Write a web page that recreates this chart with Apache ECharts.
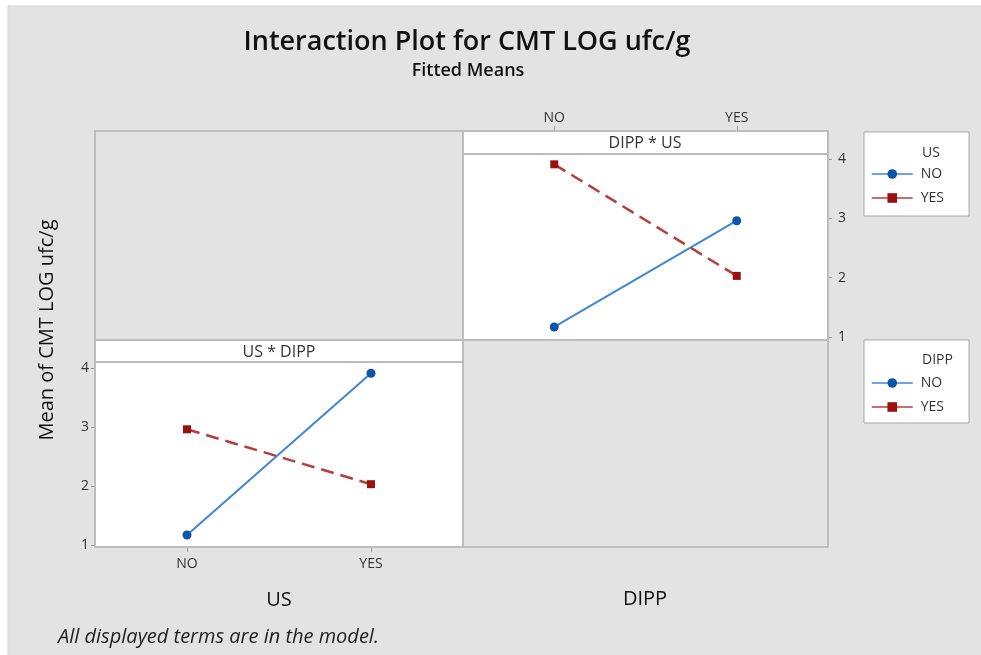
<!DOCTYPE html>
<html>
<head>
<meta charset="utf-8">
<script src="https://cdn.jsdelivr.net/npm/echarts@6/dist/echarts.min.js"></script>
<style>
  html, body { margin: 0; padding: 0; background: #ffffff; }
  #chart { width: 981px; height: 655px; }
</style>
</head>
<body>
<div id="chart"></div>
<script>
// Fitted means of CMT LOG ufc/g for each US x DIPP combination
const levels = ['NO', 'YES'];
// rows: US level; columns: DIPP level (NO, YES)
const meanUsNo = [1.17, 2.96];
const meanUsYes = [3.91, 2.03];
const yTicks = [1, 2, 3, 4];

const FONT = '"Open Sans", "Noto Sans", sans-serif';
const BLUE_LINE = '#3f86d6';
const BLUE_MARK = '#0a56a8';
const RED_LINE = '#b53d3d';
const RED_MARK = '#9c0f0f';
const FRAME = '#bdbdbd';
const BG = '#e3e3e3';

// Bottom-left panel: x = US, one line per DIPP level
const dippNo = [meanUsNo[0], meanUsYes[0]];
const dippYes = [meanUsNo[1], meanUsYes[1]];

const chart = echarts.init(document.getElementById('chart'), null, { renderer: 'canvas' });

function lineSeries(name, data, gridIdx, solid) {
  return {
    type: 'line',
    name: name,
    data: data,
    xAxisIndex: gridIdx,
    yAxisIndex: gridIdx,
    symbol: solid ? 'circle' : 'rect',
    symbolSize: solid ? 9 : 8,
    lineStyle: {
      color: solid ? BLUE_LINE : RED_LINE,
      width: solid ? 2 : 2.5,
      type: solid ? 'solid' : [13, 7]
    },
    itemStyle: { color: solid ? BLUE_MARK : RED_MARK },
    emphasis: { disabled: true },
    z: 5,
    animation: false
  };
}

const axisText = { color: '#333333', fontFamily: FONT, fontSize: 14 };

function legendAt(top) {
  return {
    orient: 'vertical', left: 871, top: top, padding: 0, itemGap: 8,
    itemWidth: 41, itemHeight: 12, data: levels,
    lineStyle: { type: 'solid', width: 1.5 },
    textStyle: { color: '#333333', fontFamily: FONT, fontSize: 14, lineHeight: 16, padding: [0, 0, 0, 3] },
    selectedMode: false
  };
}

const option = {
  backgroundColor: '#ffffff',
  animation: false,
  textStyle: { fontFamily: FONT },
  grid: [
    { left: 95, top: 362, width: 368, height: 185, show: true,
      backgroundColor: '#ffffff', borderColor: FRAME, borderWidth: 2 },
    { left: 463, top: 154, width: 365, height: 186, show: true,
      backgroundColor: '#ffffff', borderColor: FRAME, borderWidth: 2 }
  ],
  xAxis: [
    { type: 'category', gridIndex: 0, data: levels, position: 'bottom',
      boundaryGap: true,
      axisLine: { show: false },
      axisTick: { show: true, alignWithLabel: true, length: 5, lineStyle: { color: '#9a9a9a' } },
      axisLabel: Object.assign({ margin: 10 }, axisText),
      name: 'US', nameLocation: 'middle', nameGap: 43,
      nameTextStyle: { color: '#111111', fontFamily: FONT, fontSize: 20 } },
    { type: 'category', gridIndex: 1, data: levels, position: 'top', offset: 23,
      boundaryGap: true,
      axisLine: { show: false },
      axisTick: { show: true, alignWithLabel: true, length: 5, lineStyle: { color: '#9a9a9a' } },
      axisLabel: Object.assign({ margin: 6 }, axisText) }
  ],
  yAxis: [
    { type: 'value', gridIndex: 0, position: 'left', min: 0.966, max: 4.1,
      splitLine: { show: false },
      axisLine: { show: false },
      axisTick: { show: true, length: 4, customValues: yTicks, lineStyle: { color: '#9a9a9a' } },
      axisLabel: Object.assign({ margin: 6, customValues: yTicks }, axisText) },
    { type: 'value', gridIndex: 1, position: 'right', min: 0.95, max: 4.084,
      splitLine: { show: false },
      axisLine: { show: false },
      axisTick: { show: true, length: 4, customValues: yTicks, lineStyle: { color: '#9a9a9a' } },
      axisLabel: Object.assign({ margin: 10, customValues: yTicks }, axisText) }
  ],
  legend: [legendAt(166), legendAt(375)],
  graphic: [
    // page background panel
    { type: 'rect', z: -10, silent: true,
      shape: { x: 8, y: 6, width: 981, height: 660 },
      style: { fill: BG, stroke: '#d4d4d4', lineWidth: 1 } },
    // outer frame of the interaction matrix
    { type: 'rect', z: 1, silent: true,
      shape: { x: 95, y: 131, width: 733, height: 416 },
      style: { fill: 'none', stroke: FRAME, lineWidth: 2 } },
    { type: 'line', z: 1, silent: true,
      shape: { x1: 463, y1: 131, x2: 463, y2: 547 },
      style: { stroke: FRAME, lineWidth: 2 } },
    { type: 'line', z: 1, silent: true,
      shape: { x1: 95, y1: 340, x2: 828, y2: 340 },
      style: { stroke: FRAME, lineWidth: 2 } },
    // panel strips
    { type: 'rect', z: 2, silent: true,
      shape: { x: 463, y: 131, width: 365, height: 23 },
      style: { fill: '#ffffff', stroke: FRAME, lineWidth: 2 } },
    { type: 'text', z: 3, silent: true, x: 645, y: 143,
      style: { text: 'DIPP * US', align: 'center', verticalAlign: 'middle',
        fill: '#333333', font: '16px ' + FONT } },
    { type: 'rect', z: 2, silent: true,
      shape: { x: 95, y: 340, width: 368, height: 22 },
      style: { fill: '#ffffff', stroke: FRAME, lineWidth: 2 } },
    { type: 'text', z: 3, silent: true, x: 279, y: 352,
      style: { text: 'US * DIPP', align: 'center', verticalAlign: 'middle',
        fill: '#333333', font: '16px ' + FONT } },
    // legend boxes
    { type: 'rect', z: 1, silent: true,
      shape: { x: 864, y: 132, width: 105, height: 84 },
      style: { fill: '#ffffff', stroke: '#a9a9a9', lineWidth: 1 } },
    { type: 'text', z: 3, silent: true, x: 922, y: 153,
      style: { text: 'US', align: 'left', verticalAlign: 'middle',
        fill: '#333333', font: '14px ' + FONT } },
    { type: 'rect', z: 1, silent: true,
      shape: { x: 864, y: 340, width: 105, height: 83 },
      style: { fill: '#ffffff', stroke: '#a9a9a9', lineWidth: 1 } },
    { type: 'text', z: 3, silent: true, x: 922, y: 360,
      style: { text: 'DIPP', align: 'left', verticalAlign: 'middle',
        fill: '#333333', font: '14px ' + FONT } },
    // titles
    { type: 'text', z: 3, silent: true, x: 467, y: 42,
      style: { text: 'Interaction Plot for CMT LOG ufc/g', align: 'center', verticalAlign: 'middle',
        fill: '#111111', font: '600 27px ' + FONT } },
    { type: 'text', z: 3, silent: true, x: 468, y: 71,
      style: { text: 'Fitted Means', align: 'center', verticalAlign: 'middle',
        fill: '#111111', font: '600 18px ' + FONT } },
    // axis titles
    { type: 'text', z: 3, silent: true, x: 47, y: 330, rotation: Math.PI / 2,
      style: { text: 'Mean of CMT LOG ufc/g', align: 'center', verticalAlign: 'middle',
        fill: '#111111', font: '20px ' + FONT } },
    { type: 'text', z: 3, silent: true, x: 645, y: 599,
      style: { text: 'DIPP', align: 'center', verticalAlign: 'middle',
        fill: '#111111', font: '20px ' + FONT } },
    // footnote
    { type: 'text', z: 3, silent: true, x: 58, y: 637,
      style: { text: 'All displayed terms are in the model.', align: 'left', verticalAlign: 'middle',
        fill: '#222222', font: 'italic 20px ' + FONT } }
  ],
  series: [
    lineSeries('NO', dippNo, 0, true),
    lineSeries('YES', dippYes, 0, false),
    lineSeries('NO', meanUsNo, 1, true),
    lineSeries('YES', meanUsYes, 1, false)
  ]
};

chart.setOption(option);
</script>
</body>
</html>
